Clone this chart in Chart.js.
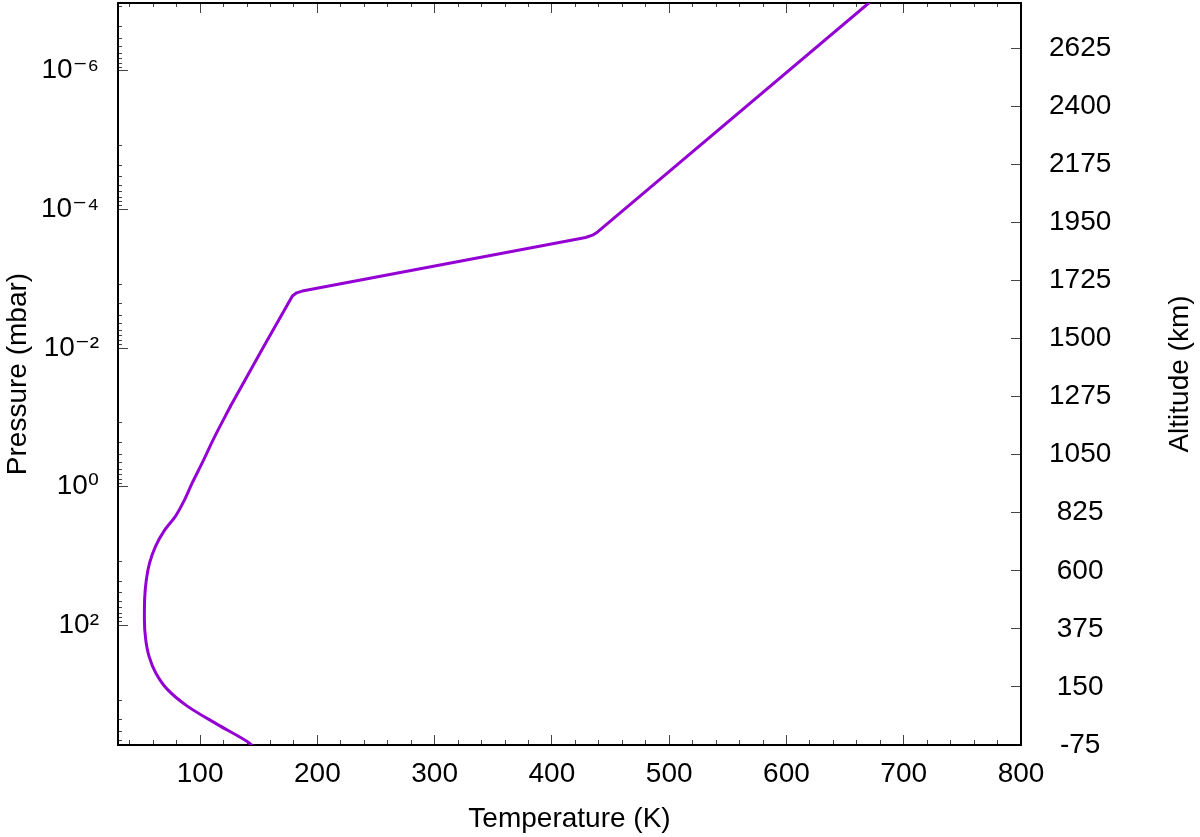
<!DOCTYPE html>
<html>
<head>
<meta charset="utf-8">
<script src="https://cdn.jsdelivr.net/npm/chart.js@4.4.1/dist/chart.umd.min.js"></script>
<style>html,body{margin:0;padding:0;background:#fff;}canvas{display:block;}</style>
</head>
<body>
<canvas id="c" width="1200" height="837" style="width:1200px;height:837px"></canvas>
<script>
// ---- data (top of atmosphere to bottom) ----
const temperatureK = [670.2, 439.0, 434.6, 428.8, 187.2, 182.3, 178.7, 154.5, 126.0, 111.3, 101.9, 93.4, 86.2, 79.1, 69.2, 62.1, 57.0, 54.2, 52.7, 52.5, 53.6, 56.4, 62.1, 72.1, 89.1, 114.7, 141.6, 143.9];
const pressureMbar = [1.06e-7, 2.12e-4, 2.36e-4, 2.55e-4, 1.51e-3, 1.60e-3, 1.78e-3, 9.35e-3, 0.0687, 0.2075, 0.450, 0.874, 1.61, 2.65, 4.36, 7.17, 12.45, 21.7, 42.1, 81.8, 159, 277, 480, 836, 1457, 2674, 4910, 5300];
// index where the straight upper profile hands over to the smooth lower one
const smoothFrom = 8;

// ---- axis ticks / labels ----
const tempTickValues = [100, 200, 300, 400, 500, 600, 700, 800];
const pressureTickValues = [1e-6, 1e-4, 1e-2, 1, 1e2];
const pressureTickLabels = ['10\u207B\u2076', '10\u207B\u2074', '10\u207B\u00B2', '10\u2070', '10\u00B2'];
const altitudeTickValues = [-75, 150, 375, 600, 825, 1050, 1275, 1500, 1725, 1950, 2175, 2400, 2625];
const xTitle = 'Temperature (K)';
const yTitle = 'Pressure (mbar)';
const altTitle = 'Altitude (km)';

const TEMP_MIN = 30, TEMP_MAX = 800;
const P_MIN = 1.06e-7, P_MAX = 5300;
const ALT_MIN = -75, ALT_MAX = 2800;

const FONT = "'Liberation Sans', Arial, Helvetica, 'DejaVu Sans', sans-serif";
const TICK_FONT = {family: FONT, size: 28};
const TITLE_FONT = {family: FONT, size: 28};
const LINE_COLOR = '#9400D3';

function near(a, b) { return Math.abs(a - b) <= Math.abs(b) * 1e-9 + 1e-12; }
function majorIndex(list, v) { return list.findIndex(m => near(v, m)); }

function tempAllTicks() {
  const out = tempTickValues.slice();
  for (let v = 40; v < TEMP_MAX; v += 20) if (majorIndex(tempTickValues, v) < 0) out.push(v);
  return out.sort((a, b) => a - b).map(v => ({value: v}));
}
function pressureAllTicks() {
  const out = pressureTickValues.slice();
  for (let e = -8; e <= 2; e += 2) {
    const a = Math.pow(10, e);
    for (let k = 1; k <= 8; k++) {
      const v = a * (1 + 11 * k);
      if (v > P_MIN && v < P_MAX) out.push(v);
    }
  }
  return out.sort((a, b) => a - b).map(v => ({value: v}));
}

const MINOR_FROM_INSIDE = [0, 6, 6, 100];
const MINOR_FROM_BORDER = [6, 100];

function tempDash(fromBorder) {
  return ctx => (ctx.tick && majorIndex(tempTickValues, ctx.tick.value) < 0) ? (fromBorder ? MINOR_FROM_BORDER : MINOR_FROM_INSIDE) : [];
}

const rightTitlePlugin = {
  id: 'rightTitle',
  afterDraw(chart) {
    const s = chart.scales.alt;
    const ctx = chart.ctx;
    ctx.save();
    ctx.font = `${TITLE_FONT.size}px ${FONT}`;
    ctx.fillStyle = '#000';
    ctx.textAlign = 'center';
    ctx.textBaseline = 'middle';
    ctx.translate(s.right - 20, (chart.chartArea.top + chart.chartArea.bottom) / 2);
    ctx.rotate(-Math.PI / 2);
    ctx.fillText(altTitle, 0, 0);
    ctx.restore();
  }
};

const points = temperatureK.map((t, i) => ({x: t, y: pressureMbar[i]}));
const lineStyle = {xAxisID: 'x', yAxisID: 'y', borderColor: LINE_COLOR, borderWidth: 3,
  borderJoinStyle: 'round', borderCapStyle: 'round', pointRadius: 0, fill: false};

new Chart(document.getElementById('c'), {
  type: 'line',
  data: {
    datasets: [
      Object.assign({data: points.slice(0, smoothFrom + 1), tension: 0}, lineStyle),
      Object.assign({data: points.slice(smoothFrom), cubicInterpolationMode: 'monotone'}, lineStyle)
    ]
  },
  options: {
    indexAxis: 'y',
    responsive: false,
    animation: false,
    devicePixelRatio: 1,
    layout: {padding: 0},
    plugins: {legend: {display: false}, tooltip: {enabled: false}},
    scales: {
      x: {
        type: 'linear', position: 'bottom', min: TEMP_MIN, max: TEMP_MAX,
        afterBuildTicks: s => { s.ticks = tempAllTicks(); },
        afterFit: s => { s.height = 92; s.paddingLeft = 0; s.paddingRight = 0; },
        grid: {drawOnChartArea: false, tickLength: -10, tickColor: '#444', tickWidth: 1, tickBorderDash: tempDash(true)},
        border: {color: '#000', width: 2},
        ticks: {autoSkip: false, maxRotation: 0, padding: 22, color: '#000', font: TICK_FONT,
          callback: v => majorIndex(tempTickValues, v) >= 0 ? String(v) : ''},
        title: {display: true, text: xTitle, color: '#000', font: TITLE_FONT, padding: {top: 0, bottom: 1}}
      },
      xTop: {
        type: 'linear', position: 'top', min: TEMP_MIN, max: TEMP_MAX,
        afterBuildTicks: s => { s.ticks = tempAllTicks(); },
        afterFit: s => { s.height = 3; s.paddingLeft = 0; s.paddingRight = 0; },
        grid: {drawOnChartArea: false, tickLength: -10, tickColor: '#444', tickWidth: 1, tickBorderDash: tempDash(false)},
        border: {color: '#000', width: 2},
        ticks: {display: false, autoSkip: false}
      },
      y: {
        type: 'logarithmic', position: 'left', reverse: true, min: P_MIN, max: P_MAX,
        afterBuildTicks: s => { s.ticks = pressureAllTicks(); },
        afterFit: s => { s.width = 118; s.paddingTop = 0; s.paddingBottom = 0; },
        grid: {drawOnChartArea: false, tickLength: -10, tickColor: '#444', tickWidth: 1,
          tickBorderDash: ctx => (ctx.tick && majorIndex(pressureTickValues, ctx.tick.value) < 0) ? MINOR_FROM_INSIDE : []},
        border: {color: '#000', width: 2},
        ticks: {autoSkip: false, padding: 29, color: '#000', font: TICK_FONT,
          callback: v => { const i = majorIndex(pressureTickValues, v); return i >= 0 ? pressureTickLabels[i] : ''; }},
        title: {display: true, text: yTitle, color: '#000', font: TITLE_FONT, padding: {top: 1, bottom: 0}}
      },
      alt: {
        type: 'linear', position: 'right', min: ALT_MIN, max: ALT_MAX,
        afterBuildTicks: s => { s.ticks = altitudeTickValues.map(v => ({value: v})); },
        afterFit: s => { s.width = 179; s.paddingTop = 0; s.paddingBottom = 0; },
        grid: {drawOnChartArea: false, tickLength: -10, tickColor: '#444', tickWidth: 1},
        border: {color: '#000', width: 2},
        ticks: {autoSkip: false, padding: 38, crossAlign: 'center', color: '#000', font: TICK_FONT,
          callback: v => String(v)},
        title: {display: false, text: altTitle}
      }
    }
  },
  plugins: [rightTitlePlugin]
});
</script>
</body>
</html>
